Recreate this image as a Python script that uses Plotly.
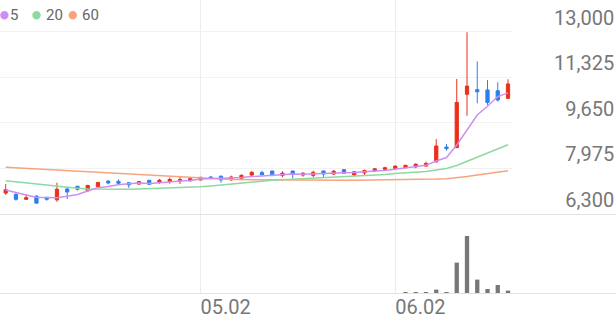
import plotly.graph_objects as go

# ---------------- data ----------------
x_index = list(range(50))
tick_pos = [19, 38]
tick_text = ["05.02", "06.02"]
price_ticks = [6300, 7975, 9650, 11325, 13000]

opens = [7070, 7020, 6840, 6960, 6910, 6820, 7220, 7320, 7150, 7300,
         7510, 7500, 7450, 7400, 7540, 7460, 7500, 7510, 7520, 7550,
         7660, 7690, 7560, 7610, 7730, 7820, 7880, 7720, 7880, 7730,
         7720, 7880, 7770, 7930, 7730, 7810, 7890, 7940, 7970, 8000,
         8030, 8060, 8220, 8760, 8740, 10700, 10870, 10860, 10830, 10550]
highs = [7400, 7080, 7030, 6980, 6930, 7450, 7260, 7330, 7370, 7480,
         7540, 7570, 7460, 7500, 7550, 7590, 7640, 7660, 7630, 7660,
         7690, 7710, 7710, 7760, 7880, 7890, 7890, 7870, 7890, 7830,
         7890, 7890, 7920, 7940, 7880, 7930, 7990, 8040, 8080, 8100,
         8160, 8220, 9050, 8870, 11260, 12980, 11910, 11220, 11140, 11250]
lows = [7000, 6790, 6820, 6670, 6790, 6750, 6850, 7160, 7120, 7290,
        7390, 7390, 7260, 7380, 7380, 7410, 7410, 7400, 7490, 7540,
        7590, 7450, 7510, 7570, 7690, 7730, 7700, 7650, 7600, 7670,
        7650, 7630, 7730, 7780, 7710, 7700, 7840, 7920, 7950, 7990,
        7980, 8040, 8190, 8630, 8720, 9910, 10370, 10310, 10430, 10540]
closes = [7190, 6840, 6900, 6700, 6840, 7210, 7110, 7210, 7350, 7460,
          7440, 7430, 7370, 7490, 7390, 7540, 7570, 7570, 7600, 7650,
          7620, 7550, 7660, 7720, 7830, 7740, 7710, 7800, 7770, 7800,
          7830, 7770, 7870, 7800, 7850, 7900, 7960, 8000, 8060, 8090,
          8130, 8160, 8800, 8700, 10400, 11000, 10790, 10400, 10490, 11080]
# volumes too small to show in the reference are kept at 0
volumes = [0, 0, 0, 0, 0, 0, 0, 0, 0, 0,
           0, 0, 0, 0, 0, 0, 0, 0, 0, 0,
           0, 0, 0, 0, 0, 0, 0, 0, 0, 0,
           0, 0, 0, 0, 0, 0, 0, 0, 0, 30000,
           50000, 70000, 340000, 60000, 3040000, 5700000, 1340000, 400000, 800000, 240000]
ma5 = [7182, 7083, 7000, 6914, 6894, 6898, 6952, 7014, 7144, 7268,
       7314, 7378, 7410, 7438, 7424, 7444, 7472, 7512, 7534, 7586,
       7602, 7598, 7616, 7640, 7676, 7700, 7732, 7760, 7770, 7764,
       7782, 7794, 7808, 7814, 7824, 7838, 7876, 7902, 7954, 8002,
       8048, 8088, 8248, 8376, 8838, 9412, 9938, 10258, 10616, 10752]
ma20 = [7524, 7483, 7439, 7391, 7347, 7303, 7274, 7244, 7219, 7211,
        7208, 7208, 7211, 7219, 7230, 7244, 7255, 7266, 7281, 7300,
        7329, 7366, 7402, 7439, 7480, 7513, 7538, 7560, 7579, 7600,
        7612, 7623, 7641, 7660, 7678, 7696, 7722, 7752, 7788, 7812,
        7832, 7862, 7917, 7972, 8082, 8229, 8376, 8523, 8670, 8845]
ma60 = [8015, 7995, 7975, 7950, 7925, 7900, 7880, 7860, 7835, 7810,
        7790, 7770, 7750, 7735, 7715, 7695, 7675, 7655, 7630, 7610,
        7590, 7580, 7570, 7565, 7560, 7555, 7550, 7548, 7545, 7543,
        7540, 7540, 7540, 7540, 7542, 7545, 7548, 7550, 7555, 7560,
        7565, 7572, 7585, 7600, 7625, 7675, 7730, 7780, 7835, 7890]
legend_items = ["5", "20", "60"]

# ---------------- styles ----------------
RED = "#e8301c"
BLUE = "#2a7ff0"
C5 = "#cf8ff0"
C20 = "#8ed9a0"
C60 = "#f7a47e"
TXT = "#777777"
FONT = "Roboto"

W, H = 616, 321
plot_right = 512 / W
price_bottom = (H - 214) / H
vol_bottom = (H - 293) / H

fig = go.Figure()
for vals, col in [(ma60, C60), (ma20, C20), (ma5, C5)]:
    fig.add_trace(go.Scatter(x=x_index, y=vals, mode="lines",
                             line=dict(color=col, width=1.5),
                             hoverinfo="skip", xaxis="x", yaxis="y"))

fig.add_trace(go.Candlestick(
    x=x_index, open=opens, high=highs, low=lows, close=closes,
    increasing=dict(line=dict(color=RED, width=1), fillcolor=RED),
    decreasing=dict(line=dict(color=BLUE, width=1), fillcolor=BLUE),
    whiskerwidth=0, xaxis="x", yaxis="y"))

fig.add_trace(go.Bar(x=x_index, y=volumes, marker_color="#777777",
                     marker_line_width=0, width=0.42,
                     xaxis="x2", yaxis="y2"))

xrange = [-0.556, 49.39]
fig.update_layout(
    width=W, height=H,
    margin=dict(l=0, r=0, t=0, b=0),
    paper_bgcolor="white", plot_bgcolor="white",
    showlegend=False,
    boxgap=0.55,
    font=dict(family=FONT, color=TXT),
    xaxis=dict(domain=[0, plot_right], range=xrange, anchor="y",
               tickvals=tick_pos, showticklabels=False, showgrid=True,
               gridcolor="#ececec", gridwidth=1, zeroline=False,
               rangeslider=dict(visible=False), fixedrange=True),
    yaxis=dict(domain=[price_bottom, 1], range=[6300, 14164.5],
               tickvals=price_ticks,
               ticktext=[f"{v:,}" for v in price_ticks],
               side="left", anchor="free", position=0.997,
               ticklabelposition="outside top",
               tickfont=dict(size=20, color=TXT, family=FONT),
               showgrid=True, gridcolor="#f2f2f2", zeroline=False,
               showline=False, fixedrange=True),
    xaxis2=dict(domain=[0, plot_right], range=xrange, anchor="y2",
                tickvals=tick_pos, ticktext=tick_text,
                ticklabelposition="outside right",
                tickfont=dict(size=20, color=TXT, family=FONT),
                showgrid=True, gridcolor="#ececec", zeroline=False,
                fixedrange=True),
    yaxis2=dict(domain=[vol_bottom, price_bottom], range=[0, 7900000],
                showgrid=False, showticklabels=False, zeroline=False,
                fixedrange=True),
)

# separator lines (full width), placed on pixel centres
for ypx in [214.5, 293.5]:
    yp = (H - ypx) / H
    fig.add_shape(type="line", xref="paper", yref="paper", layer="above",
                  x0=0, x1=1, y0=yp, y1=yp,
                  line=dict(color="#e2e2e2", width=1))

# legend
dot_cx = [4.4, 36.5, 72.8]
text_x = [7.5, 44.0, 80.0]
for lab, col, cx, tx in zip(legend_items, [C5, C20, C60], dot_cx, text_x):
    fig.add_shape(type="circle", xref="paper", yref="paper",
                  x0=(cx - 4.2) / W, x1=(cx + 4.2) / W,
                  y0=(H - 19.5) / H, y1=(H - 11.1) / H,
                  fillcolor=col, line=dict(width=0))
    fig.add_annotation(text=lab, xref="paper", yref="paper",
                       x=tx / W, y=(H - 15.5) / H, xanchor="left",
                       yanchor="middle", showarrow=False,
                       font=dict(size=15, color="#666666", family=FONT))

fig.write_html("out.html")
